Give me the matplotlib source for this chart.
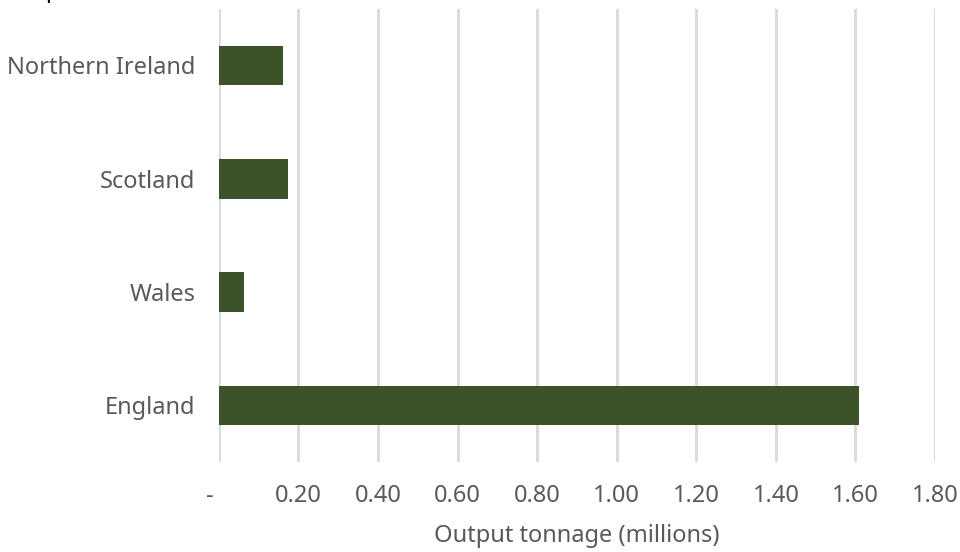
import matplotlib
matplotlib.use("Agg")
import matplotlib.pyplot as plt
from matplotlib.ticker import FuncFormatter

# Output tonnage by nation (millions of tonnes)
nations = ["England", "Wales", "Scotland", "Northern Ireland"]
tonnage = [1.610, 0.063, 0.173, 0.160]
x_ticks = [0.0, 0.2, 0.4, 0.6, 0.8, 1.0, 1.2, 1.4, 1.6, 1.8]

BAR_COLOR = "#3c5229"
TEXT_COLOR = "#595959"
GRID_COLOR = "#d9d9d9"
FONT = ["Noto Sans", "DejaVu Sans"]

plt.rcParams["font.family"] = FONT

fig = plt.figure(figsize=(9.6, 5.52), dpi=100)
ax = fig.add_axes([0.228, 0.163, 0.746, 0.821])

ax.barh(nations, tonnage, height=0.35, color=BAR_COLOR, zorder=3)

ax.set_xlim(0, 1.8)
ax.set_ylim(-0.5, 3.5)
ax.set_xticks(x_ticks)
ax.xaxis.set_major_formatter(FuncFormatter(lambda v, p: "-   " if v == 0 else f"{v:.2f}"))
ax.grid(axis="x", color=GRID_COLOR, linewidth=2, zorder=0)
ax.tick_params(axis="x", length=0, pad=16, labelsize=17, labelcolor=TEXT_COLOR)
ax.tick_params(axis="y", length=0, pad=17, labelsize=17, labelcolor=TEXT_COLOR)
for lbl in ax.get_xticklabels() + ax.get_yticklabels():
    lbl.set_fontweight("medium")
for s in ax.spines.values():
    s.set_visible(False)

ax.set_xlabel("Output tonnage (millions)", fontsize=17, color=TEXT_COLOR,
              fontweight="medium", labelpad=11)

# chart heading sitting just above the frame
fig.text(0.047, 1.0 + 2 / 552, "p", fontsize=16, fontweight="bold", va="baseline", color="black")

fig.savefig("out.png", dpi=100)
